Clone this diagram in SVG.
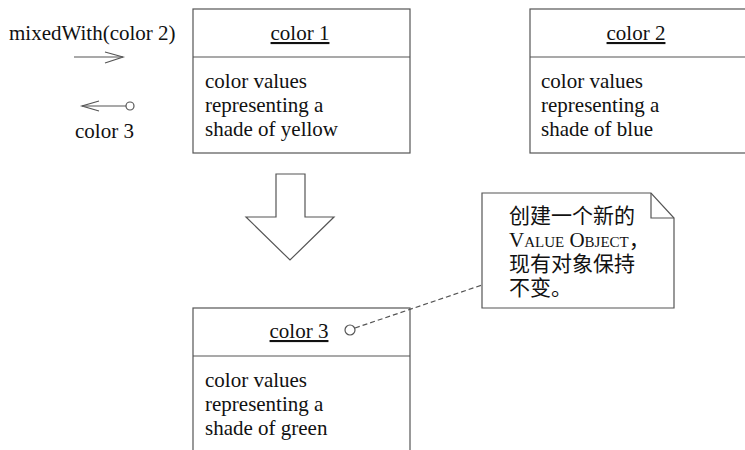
<svg xmlns="http://www.w3.org/2000/svg" width="745" height="450" viewBox="0 0 745 450">
<defs>
<style>
text{font-family:"Liberation Serif","Times New Roman",serif;font-size:21px;fill:#111}
.cjk{font-family:"Liberation Serif","Noto Sans CJK SC",serif;font-size:21px}
.box{fill:#fff;stroke:#555;stroke-width:1.2}
.ln{fill:none;stroke:#555;stroke-width:1.2}
.u{text-decoration:underline}
</style>
</defs>
<rect width="745" height="450" fill="#fff"/>
<g id="color1">
<rect class="box" x="193" y="9" width="217" height="144"/>
<line class="ln" x1="193" y1="57" x2="410" y2="57"/>
<text class="u" x="300" y="40" text-anchor="middle">color 1</text>
<text x="205" y="88">color values</text>
<text x="205" y="112">representing a</text>
<text x="205" y="136">shade of yellow</text>
</g>
<g id="color2">
<rect class="box" x="530" y="9" width="222" height="144"/>
<line class="ln" x1="530" y1="57" x2="752" y2="57"/>
<text class="u" x="636" y="40" text-anchor="middle">color 2</text>
<text x="541" y="88">color values</text>
<text x="541" y="112">representing a</text>
<text x="541" y="136">shade of blue</text>
</g>
<g id="color3">
<rect class="box" x="193" y="308" width="217" height="150"/>
<line class="ln" x1="193" y1="356" x2="410" y2="356"/>
<text class="u" x="299" y="338" text-anchor="middle">color 3</text>
<circle class="ln" cx="350" cy="330" r="5"/>
<text x="205" y="387">color values</text>
<text x="205" y="411">representing a</text>
<text x="205" y="435">shade of green</text>
</g>
<g id="note">
<path class="box" d="M482,193 H651 L674,218 V308 H482 Z"/>
<path class="ln" d="M651,193 V218 H674"/>
<text class="cjk" x="509" y="223">创建一个新的</text>
<text x="509" y="247" style="font-variant:small-caps;font-size:21px">Value Object<tspan class="cjk">，</tspan></text>
<text class="cjk" x="509" y="271">现有对象保持</text>
<text class="cjk" x="509" y="295">不变。</text>
</g>
<g id="bigarrow">
<path class="box" d="M276,174 H305 V217 H334 L290,260 L246,217 H276 Z"/>
</g>
<g id="messages">
<text x="9" y="40">mixedWith(color 2)</text>
<text x="75" y="138">color 3</text>
</g>
<g id="connectors">
<line class="ln" x1="74" y1="57" x2="123" y2="57"/>
<polyline class="ln" points="105,52 123,57 105,63"/>
<line class="ln" x1="82" y1="106" x2="126" y2="106"/>
<polyline class="ln" points="99,101 82,106 99,111"/>
<circle class="ln" cx="130" cy="106" r="4"/>
<line class="ln" x1="355" y1="328" x2="482" y2="285" stroke-dasharray="5,3"/>
</g>
</svg>
